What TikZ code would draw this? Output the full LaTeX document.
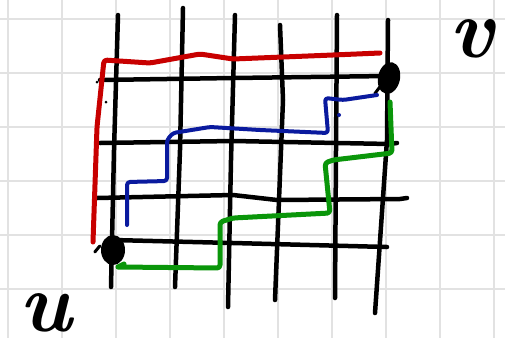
\documentclass[tikz,border=0pt]{standalone}
\usepackage{tikz}
\usetikzlibrary{shapes.geometric}
\definecolor{PaperGrid}{HTML}{E2E2E2}
\definecolor{InkRed}{HTML}{C80000}
\definecolor{InkBlue}{HTML}{0A1A9E}
\definecolor{InkGreen}{HTML}{0A960A}

\begin{document}
\begin{tikzpicture}[x=1pt, y=-1pt,
    ink/.style={line width=4.5pt, line cap=round, line join=round},
    pen/.style={line width=5pt, line cap=round, line join=round, rounded corners=3pt},
    blob/.style={ellipse, fill=black, inner sep=0pt},
    hand/.style={font=\fontsize{84}{84}\selectfont\bfseries\itshape, inner sep=0pt,
      text height=1ex, text depth=0pt, anchor=base}]
  \useasboundingbox (0,0) rectangle (505,338);
  \fill[white] (0,0) rectangle (505,338);
  \foreach \gx in {8,62,...,495}
    \draw[PaperGrid, line width=2pt] (\gx,0) -- (\gx,338);
  \foreach \gy in {19,73,...,338}
    \draw[PaperGrid, line width=2pt] (0,\gy) -- (505,\gy);

  \draw[ink] (118,15) -- (114,150) -- (111,287);
  \draw[ink] (183,8) -- (180,150) -- (175,287);
  \draw[ink] (235,15) -- (231,160) -- (228,307);
  \draw[ink] (280,25) -- (283,100) -- (275,300);
  \draw[ink] (337,15) -- (336,150) -- (335,298);
  \draw[ink] (388,20) -- (387,140) -- (375,313);

  \draw[ink] (100,80) -- (233,78) -- (388,76);
  \draw[ink] (100,143) -- (233,141) -- (390,144) -- (397,143);
  \draw[ink] (97,198) -- (233,195) -- (277,200) -- (400,199) -- (407,198);
  \draw[ink] (113,240) -- (233,243) -- (387,247);
  \fill (97,82) circle (1.5pt) (106,102) circle (1.5pt);

  \node[blob, minimum width=24pt, minimum height=30pt] (nodeU) at (113,250) {};
  \node[blob, minimum width=22pt, minimum height=32pt, rotate=-12] (nodeV) at (389,78) {};
  \draw[ink, line width=3pt] (nodeU.west) ++(-1,-4) -- ++(-5,6);
  \draw[ink, line width=3pt] (nodeV.south west) ++(2,-2) -- ++(-6,8);

  \draw[pen, InkRed] (93,242) -- (97,127) -- (104,60) -- (150,63) -- (200,54)
    -- (233,59) -- (333,55) -- (380,53);
  \draw[pen, InkBlue, line width=4pt] (127,225) -- (127,182) -- (167,181)
    -- (167,140) -- (173,133) -- (210,127) -- (260,130) -- (328,133)
    -- (325,98) -- (343,100) -- (377,95);
  \fill[InkBlue] (339,115) circle (2pt);
  \draw[pen, InkGreen] (118,267) -- (124,264) (118,267) -- (220,268) -- (220,222)
    -- (233,218) -- (330,213) -- (325,163) -- (333,160) -- (392,153) -- (390,102);

  \node[hand] (labU) at (46,331) {u};
  \node[hand] (labV) at (472,57) {v};
\end{tikzpicture}
\end{document}
